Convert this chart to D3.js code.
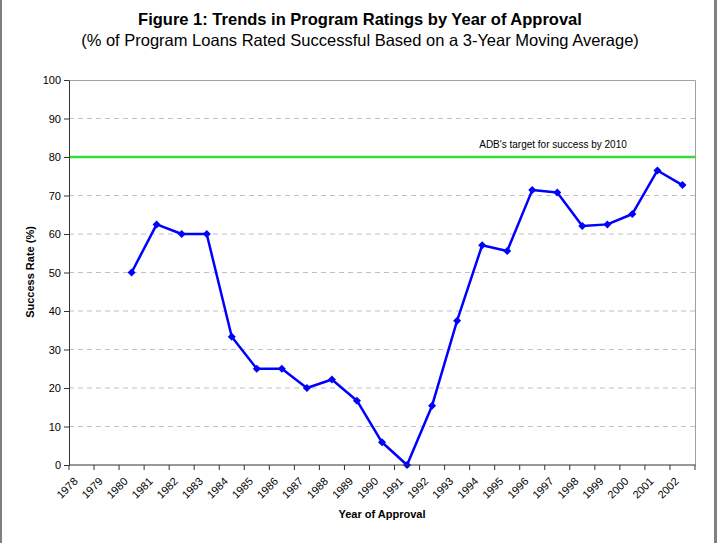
<!DOCTYPE html>
<html>
<head>
<meta charset="utf-8">
<script src="https://cdn.jsdelivr.net/npm/d3@7"></script>
<style>
body{margin:0;background:#fff;}
svg text{font-family:Arial,"Liberation Sans",sans-serif;}
</style>
</head>
<body>
<svg id="chart" width="721" height="543"></svg>
<script>
// chart data
var years = ["1978","1979","1980","1981","1982","1983","1984","1985","1986","1987","1988","1989","1990",
	"1991","1992","1993","1994","1995","1996","1997","1998","1999","2000","2001","2002"];
var rates = [null,null,50,62.5,60,60,33.3,25,25,20,22.2,16.7,5.9,
	0,15.4,37.5,57.1,55.6,71.4,70.8,62.1,62.5,65.2,76.5,72.7];
var yTicks = [0,10,20,30,40,50,60,70,80,90,100];
var target = 80;
var targetLabel = "ADB's target for success by 2010";

var svg = d3.select("#chart");
var margin = {left:69, right:26, top:80, bottom:78};
var width = 721, height = 543;

// outer frame (left and right grey edges)
svg.append("rect").attr("x",0).attr("y",0).attr("width",2).attr("height",height).attr("fill","#808080");
svg.append("rect").attr("x",714).attr("y",0).attr("width",3).attr("height",height).attr("fill","#808080");

var x = d3.scaleBand().domain(years).range([margin.left, width-margin.right]);
var y = d3.scaleLinear().domain([0,100]).range([height-margin.bottom, margin.top]);

var plot = svg.append("g");

//gridlines
plot.selectAll("line.grid").data(yTicks.filter(function(d){return d>0 && d<100}))
	.enter().append("line").classed("grid",true)
	.attr("x1",margin.left).attr("x2",width-margin.right)
	.attr("y1",function(d){return y(d)}).attr("y2",function(d){return y(d)})
	.attr("stroke","#c0c0c0").attr("stroke-width",1).attr("stroke-dasharray","5,4");

// plot area border top and right
plot.append("path")
	.attr("d","M"+margin.left+","+(y(100)+0.5)+"H"+(width-margin.right+0.5)+"V"+y(0))
	.attr("fill","none").attr("stroke","#a0a0a0").attr("stroke-width",1);

// target line
plot.append("line")
	.attr("x1",margin.left).attr("x2",width-margin.right)
	.attr("y1",y(target)).attr("y2",y(target))
	.attr("stroke","#33dd33").attr("stroke-width",2.5);
plot.append("text").attr("x",553).attr("y",y(target)-9)
	.attr("text-anchor","middle").attr("font-size","10px").attr("fill","#000")
	.text(targetLabel);

// y axis
var yAxis = svg.append("g").attr("transform","translate("+margin.left+",0)")
	.call(d3.axisLeft(y).tickValues(yTicks).tickSize(5).tickSizeOuter(0).tickPadding(3));
yAxis.select(".domain").attr("stroke","#333");
yAxis.selectAll(".tick line").attr("stroke","#333");
yAxis.selectAll("text").attr("font-size","11px").attr("fill","#000")
	.attr("font-family","Arial,'Liberation Sans',sans-serif");

// x axis, ticks at category boundaries
var xAxisG = svg.append("g").attr("transform","translate(0,"+y(0)+")");
xAxisG.append("line").attr("x1",margin.left).attr("x2",width-margin.right+0.5)
	.attr("y1",0).attr("y2",0).attr("stroke","#333").attr("stroke-width",1.2);
var bounds = years.map(function(d){return x(d)}).concat([x.range()[1]]);
xAxisG.selectAll("line.tk").data(bounds).enter().append("line").classed("tk",true)
	.attr("x1",function(d){return d}).attr("x2",function(d){return d})
	.attr("y1",0).attr("y2",5).attr("stroke","#333");
xAxisG.selectAll("text.lbl").data(years).enter().append("text").classed("lbl",true)
	.attr("text-anchor","end").attr("font-size","11px").attr("fill","#000")
	.attr("transform",function(d){return "translate("+(x(d)+x.bandwidth()/2-3)+",17) rotate(-45)"})
	.text(function(d){return d});

// axis titles
svg.append("text").attr("x",382).attr("y",518).attr("text-anchor","middle")
	.attr("font-size","11px").attr("font-weight","bold").text("Year of Approval");
svg.append("text").attr("transform","translate(34,272) rotate(-90)").attr("text-anchor","middle")
	.attr("font-size","11px").attr("font-weight","bold").text("Success Rate (%)");

// titles
svg.append("text").attr("x",360).attr("y",25).attr("text-anchor","middle")
	.attr("font-size","16.5px").attr("font-weight","bold").text("Figure 1: Trends in Program Ratings by Year of Approval");
svg.append("text").attr("x",360).attr("y",46).attr("text-anchor","middle")
	.attr("font-size","16.5px").text("(% of Program Loans Rated Successful Based on a 3-Year Moving Average)");

// series
var pts = years.map(function(d,i){return {year:d, v:rates[i]}}).filter(function(d){return d.v!==null});
var line = d3.line().x(function(d){return x(d.year)+x.bandwidth()/2}).y(function(d){return y(d.v)});
plot.append("path").datum(pts).attr("d",line)
	.attr("fill","none").attr("stroke","#0000ff").attr("stroke-width",2.5).attr("stroke-linejoin","round");
plot.selectAll("path.mk").data(pts).enter().append("path").classed("mk",true)
	.attr("transform",function(d){return "translate("+(x(d.year)+x.bandwidth()/2)+","+y(d.v)+")"})
	.attr("d","M0,-4L4,0L0,4L-4,0Z").attr("fill","#0000ff");
</script>
</body>
</html>
